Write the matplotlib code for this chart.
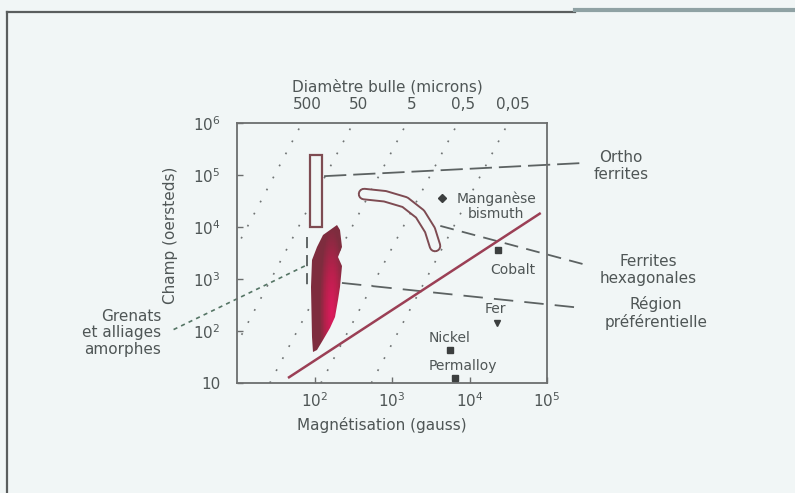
import numpy as np
import matplotlib
matplotlib.use('Agg')
import matplotlib.pyplot as plt
from matplotlib.patches import Polygon, Rectangle
from matplotlib.lines import Line2D
from matplotlib.colors import LinearSegmentedColormap
import matplotlib.transforms as mtransforms
import matplotlib.ticker as mticker

plt.rcParams['lines.scale_dashes'] = False
plt.rcParams['font.family'] = ['DejaVu Sans']
plt.rcParams['mathtext.default'] = 'regular'

# ---------------- data ----------------
x_ticks = [1e2, 1e3, 1e4, 1e5]
x_ticklabels = ['$10^2$', '$10^3$', '$10^4$', '$10^5$']
y_ticks = [1e1, 1e2, 1e3, 1e4, 1e5, 1e6]
y_ticklabels = ['10', '$10^2$', '$10^3$', '$10^4$', '$10^5$', '$10^6$']

# iso bubble-diameter lines (M at H=1e6 and at H=10)
diam_labels = ['500', '50', '5', '0,5', '0,05']
diam_M_top = [69, 316, 1550, 7080, 31600]
diam_M_bottom = [1.18, 5.4, 26.5, 121, 541]

# orthoferrites box
ortho_M = [87, 125]
ortho_H = [1.0e4, 2.4e5]

# hexagonal ferrites band (centre line)
hexa_M = [436, 813, 1470, 2300, 3090, 3590]
hexa_H = [4.3e4, 3.9e4, 3.0e4, 1.78e4, 8750, 4310]

# amorphous garnets / alloys region
amorph_M = [193, 214, 224, 200, 224, 214, 200, 184, 158, 129, 107, 95, 92, 90, 92, 107, 129, 158]
amorph_H = [1.1e4, 8700, 4200, 2600, 1740, 710, 400, 190, 115, 68, 44, 40, 78, 710, 2340, 4200, 7100, 8700]

# Q = 1 line
q_line_M = [45.5, 83000]
q_line_H = [12.5, 18600]

# materials
mat_names = ['Manganèse\nbismuth', 'Cobalt', 'Fer', 'Nickel', 'Permalloy']
mat_M = [4400, 23300, 22600, 5600, 6500]
mat_H = [3.6e4, 3600, 143, 43, 12.5]
mat_markers = ['D', 's', 'v', 's', 's']
mat_text_M = [22000, 36400, 21300, 5600, 8240]
mat_text_H = [2.5e4, 1490, 265, 73, 21]

# annotation leader lines
ortho_lead_M = [133, 2.9e5]
ortho_lead_H = [9.5e4, 1.7e5]
hexa_lead_M = [4200, 3.6e5]
hexa_lead_H = [1.05e4, 1780]
pref_lead_M = [226, 2.83e5]
pref_lead_H = [840, 277]
gren_lead_M = [75, 1.49]
gren_lead_H = [1780, 105]
gren_vert_M = [80, 80]
gren_vert_H = [6500, 700]

# ---------------- figure ----------------
bg = '#f1f6f6'
txt = '#4f5656'
edge = '#7e4b52'

fig = plt.figure(figsize=(7.95, 4.93), dpi=100, facecolor=bg)
ax = fig.add_axes([237/795, 1-383/493, 310/795, 260/493])
ax.set_facecolor(bg)
ax.set_xscale('log')
ax.set_yscale('log')
ax.set_xlim(10, 1e5)
ax.set_ylim(10, 1e6)

for s in ax.spines.values():
    s.set_color('#6c6e6e')
    s.set_linewidth(1.3)

ax.xaxis.set_major_locator(mticker.FixedLocator(x_ticks))
ax.xaxis.set_major_formatter(mticker.FixedFormatter(x_ticklabels))
ax.yaxis.set_major_locator(mticker.FixedLocator(y_ticks))
ax.yaxis.set_major_formatter(mticker.FixedFormatter(y_ticklabels))
ax.xaxis.set_minor_locator(mticker.NullLocator())
ax.yaxis.set_minor_locator(mticker.NullLocator())
ax.tick_params(axis='both', direction='in', length=4, width=1, color='#6c6e6e',
               labelsize=11, labelcolor=txt)
ax.tick_params(axis='x', pad=6)
ax.tick_params(axis='y', pad=12)

# iso-diameter dotted lines
for mt, mb in zip(diam_M_top, diam_M_bottom):
    ax.plot([mb, mt], [10, 1e6], color='#707474', lw=1.2,
            linestyle=(0, (1.3, 8.5)), zorder=1)

# top labels
btrans = mtransforms.blended_transform_factory(ax.transData, ax.transAxes)
toff = mtransforms.offset_copy(btrans, fig=fig, x=5, y=0, units='dots')
for lab, mt in zip(diam_labels, diam_M_top):
    ax.text(mt, 1.073, lab, transform=toff, ha='center', va='center',
            fontsize=11, color=txt)
ax.text(0.484, 1.138, 'Diamètre bulle (microns)', transform=ax.transAxes,
        ha='center', va='center', fontsize=11, color=txt)
ax.text(0.468, -0.162, 'Magnétisation (gauss)', transform=ax.transAxes,
        ha='center', va='center', fontsize=11, color=txt)
ax.text(-0.216, 0.569, 'Champ (oersteds)', transform=ax.transAxes, rotation=90,
        ha='center', va='center', fontsize=11, color=txt)

# Q=1 line
ax.plot(q_line_M, q_line_H, color='#9b3f55', lw=1.8, zorder=3, solid_capstyle='butt')

# orthoferrites box
ax.add_patch(Rectangle((ortho_M[0], ortho_H[0]), ortho_M[1]-ortho_M[0],
                       ortho_H[1]-ortho_H[0], facecolor=bg, edgecolor=edge,
                       lw=1.6, zorder=4))

# hexagonal ferrites band
ax.plot(hexa_M, hexa_H, color=edge, lw=9.0, solid_capstyle='round',
        solid_joinstyle='round', zorder=4)
ax.plot(hexa_M, hexa_H, color=bg, lw=6.2, solid_capstyle='round',
        solid_joinstyle='round', zorder=5)

# amorphous region with gradient
poly = Polygon(np.column_stack([amorph_M, amorph_H]), closed=True,
               facecolor='none', edgecolor='none', zorder=4)
ax.add_patch(poly)
lm = np.linspace(1.9, 2.4, 60)
lh = np.linspace(1.5, 4.1, 120)
LM, LH = np.meshgrid(lm, lh)
v = np.sqrt(((LM - 2.22) / 0.16) ** 2 + ((LH - 2.35) / 1.6) ** 2)
v = np.clip(v, 0, 1)
cmap = LinearSegmentedColormap.from_list('amo', ['#de1a5e', '#b8204c', '#7e2c3e'])
mesh = ax.pcolormesh(10 ** lm, 10 ** lh, v[:-1, :-1], cmap=cmap, vmin=0, vmax=1,
                     shading='flat', zorder=4)
mesh.set_clip_path(poly)

# leader lines
ax.plot(ortho_lead_M, ortho_lead_H, color='#5c6262', lw=1.3,
        linestyle=(0, (16, 5)), clip_on=False, zorder=2)
ax.plot(hexa_lead_M, hexa_lead_H, color='#5c6262', lw=1.3,
        linestyle=(0, (10, 6)), clip_on=False, zorder=2)
ax.plot(pref_lead_M, pref_lead_H, color='#5c6262', lw=1.3,
        linestyle=(0, (14, 8)), clip_on=False, zorder=2)
ax.plot(gren_lead_M, gren_lead_H, color='#557565', lw=1.2,
        linestyle=(0, (3, 3)), clip_on=False, zorder=2)
ax.plot(gren_vert_M, gren_vert_H, color='#555b5b', lw=1.3,
        linestyle=(0, (8, 5)), zorder=2)

# materials
for nm, m, h, mk, tm, th in zip(mat_names, mat_M, mat_H, mat_markers, mat_text_M, mat_text_H):
    ax.plot([m], [h], marker=mk, color='#3c3f3f', markersize=4, clip_on=False, zorder=6)
    ax.text(tm, th, nm, ha='center', va='center', fontsize=10, color=txt,
            linespacing=1.1, zorder=6)

# right / left labels (figure coords)
def ft(x, y, s, ha='center'):
    fig.text(x/795, 1-y/493, s, ha=ha, va='center', fontsize=11, color=txt,
             linespacing=1.15, multialignment='center' if ha == 'center' else 'right')

ft(621, 166, 'Ortho\nferrites')
ft(648, 270, 'Ferrites\nhexagonales')
ft(656, 313, 'Région\npréférentielle')
ft(161, 333, 'Grenats\net alliages\namorphes', ha='right')

# frame of the scanned page
fig.add_artist(Line2D([7/795, 575/795], [1-12/493, 1-12/493], color='#5a5e5e', lw=1.6))
fig.add_artist(Line2D([7/795, 7/795], [1-12/493, 0], color='#5a5e5e', lw=1.6))
fig.add_artist(Line2D([575/795, 1], [1-10/493, 1-10/493], color='#8fa2a4', lw=3))

fig.savefig('out.png', dpi=100, facecolor=bg)
